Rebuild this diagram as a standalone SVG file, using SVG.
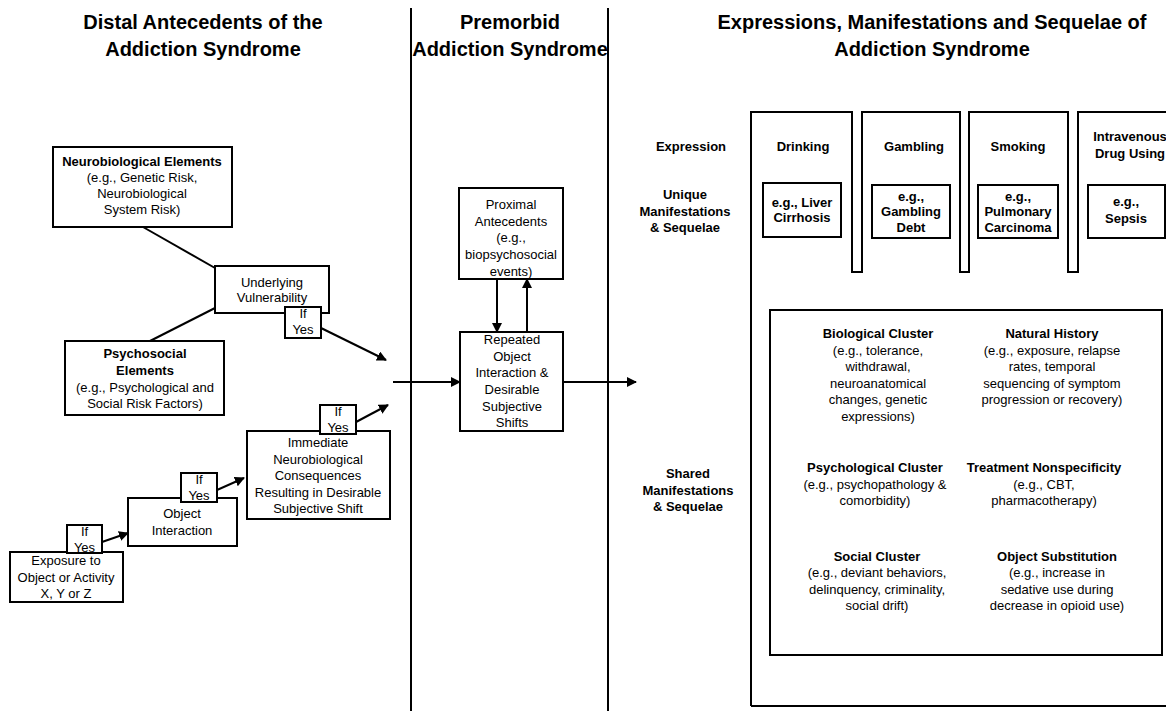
<svg xmlns="http://www.w3.org/2000/svg" width="1166" height="711" viewBox="0 0 1166 711">
<defs>
<style>
text{font-family:"Liberation Sans",Arial,sans-serif;font-size:13px;fill:#000;text-anchor:middle}
.b{font-weight:bold}
.h{font-weight:bold;font-size:20px}
.box{fill:#fff;stroke:#000;stroke-width:2}
.ln{fill:none;stroke:#000;stroke-width:2}
.ar{fill:none;stroke:#000;stroke-width:2;marker-end:url(#ah)}
</style>
<marker id="ah" viewBox="0 0 10 10" refX="9" refY="5" markerWidth="5" markerHeight="5" markerUnits="strokeWidth" orient="auto">
<path d="M0,0 L10,5 L0,10 z" fill="#000"/>
</marker>
</defs>
<rect width="1166" height="711" fill="#fff"/>

<g id="dividers">
<line class="ln" x1="411" y1="8" x2="411" y2="711"/>
<line class="ln" x1="608" y1="8" x2="608" y2="711"/>
</g>

<g id="headings">
<text class="h" x="203" y="29">Distal Antecedents of the</text>
<text class="h" x="203" y="56">Addiction Syndrome</text>
<text class="h" x="510" y="29">Premorbid</text>
<text class="h" x="510" y="56">Addiction Syndrome</text>
<text class="h" x="932" y="29">Expressions, Manifestations and Sequelae of</text>
<text class="h" x="932" y="56">Addiction Syndrome</text>
</g>

<g id="connectors">
<line class="ln" x1="143" y1="227" x2="215" y2="268"/>
<line class="ln" x1="215" y1="308" x2="150" y2="341"/>
<line class="ar" x1="321" y1="328" x2="386" y2="360"/>
<line class="ar" x1="102" y1="542" x2="128" y2="533"/>
<line class="ar" x1="217" y1="490" x2="244" y2="478"/>
<line class="ar" x1="356" y1="422" x2="388" y2="405"/>
<line class="ar" x1="393" y1="382" x2="460" y2="382"/>
<line class="ar" x1="497" y1="279" x2="497" y2="332"/>
<line class="ar" x1="527" y1="332" x2="527" y2="279"/>
<line class="ar" x1="563" y1="382" x2="636" y2="382"/>
</g>

<g id="neurobiological">
<rect class="box" x="53" y="147" width="179" height="80"/>
<text class="b" x="142" y="166">Neurobiological Elements</text>
<text x="142" y="182">(e.g., Genetic Risk,</text>
<text x="142" y="198">Neurobiological</text>
<text x="142" y="214">System Risk)</text>
</g>

<g id="vulnerability">
<rect class="box" x="215" y="266" width="114" height="47"/>
<text x="272" y="287">Underlying</text>
<text x="272" y="302">Vulnerability</text>
</g>
<g id="ifyes1">
<rect class="box" x="285" y="307" width="36" height="31"/>
<text x="303" y="318">If</text>
<text x="303" y="334">Yes</text>
</g>

<g id="psychosocial">
<rect class="box" x="65" y="341" width="159" height="74"/>
<text class="b" x="145" y="358">Psychosocial</text>
<text class="b" x="145" y="375">Elements</text>
<text x="145" y="392">(e.g., Psychological and</text>
<text x="145" y="408">Social Risk Factors)</text>
</g>

<g id="exposure">
<rect class="box" x="10" y="552" width="113" height="50"/>
<text x="66" y="565">Exposure to</text>
<text x="66" y="582">Object or Activity</text>
<text x="66" y="598">X, Y or Z</text>
</g>
<g id="ifyes2">
<rect class="box" x="67" y="525" width="35" height="28"/>
<text x="84.5" y="536">If</text>
<text x="84.5" y="552">Yes</text>
</g>

<g id="objectinteraction">
<rect class="box" x="128" y="498" width="109" height="48"/>
<text x="182" y="518">Object</text>
<text x="182" y="535">Interaction</text>
</g>
<g id="ifyes3">
<rect class="box" x="181" y="473" width="36" height="29"/>
<text x="199" y="484">If</text>
<text x="199" y="500">Yes</text>
</g>

<g id="immediate">
<rect class="box" x="247" y="431" width="143" height="88"/>
<text x="318" y="447">Immediate</text>
<text x="318" y="464">Neurobiological</text>
<text x="318" y="480">Consequences</text>
<text x="318" y="497">Resulting in Desirable</text>
<text x="318" y="513">Subjective Shift</text>
</g>
<g id="ifyes4">
<rect class="box" x="320" y="405" width="36" height="29"/>
<text x="338" y="416">If</text>
<text x="338" y="432">Yes</text>
</g>

<g id="proximal">
<rect class="box" x="459" y="188" width="104" height="91"/>
<text x="511" y="209">Proximal</text>
<text x="511" y="226">Antecedents</text>
<text x="511" y="242">(e.g.,</text>
<text x="511" y="259">biopsychosocial</text>
<text x="511" y="276">events)</text>
</g>

<g id="repeated">
<rect class="box" x="460" y="332" width="103" height="99"/>
<text x="512" y="344">Repeated</text>
<text x="512" y="361">Object</text>
<text x="512" y="377">Interaction &amp;</text>
<text x="512" y="394">Desirable</text>
<text x="512" y="411">Subjective</text>
<text x="512" y="427">Shifts</text>
</g>

<g id="rowlabels">
<text class="b" x="691" y="151">Expression</text>
<text class="b" x="685" y="199">Unique</text>
<text class="b" x="685" y="216">Manifestations</text>
<text class="b" x="685" y="232">&amp; Sequelae</text>
<text class="b" x="688" y="478">Shared</text>
<text class="b" x="688" y="495">Manifestations</text>
<text class="b" x="688" y="511">&amp; Sequelae</text>
</g>

<g id="expressions">
<path class="ln" d="M751,706 V112 H852 V272 H862 V112 H960 V272 H969 V112 H1068 V272 H1078 V112 H1170"/>
<line class="ln" x1="751" y1="706" x2="1170" y2="706"/>
<text class="b" x="803" y="151">Drinking</text>
<text class="b" x="914" y="151">Gambling</text>
<text class="b" x="1018" y="151">Smoking</text>
<text class="b" x="1130" y="141">Intravenous</text>
<text class="b" x="1130" y="158">Drug Using</text>
</g>

<g id="drinking">
<rect class="box" x="763" y="183" width="78" height="54"/>
<text class="b" x="802" y="207">e.g., Liver</text>
<text class="b" x="802" y="222">Cirrhosis</text>
</g>
<g id="gambling">
<rect class="box" x="872" y="185" width="78" height="53"/>
<text class="b" x="911" y="201">e.g.,</text>
<text class="b" x="911" y="216">Gambling</text>
<text class="b" x="911" y="232">Debt</text>
</g>
<g id="smoking">
<rect class="box" x="978" y="185" width="80" height="53"/>
<text class="b" x="1018" y="201">e.g.,</text>
<text class="b" x="1018" y="216">Pulmonary</text>
<text class="b" x="1018" y="232">Carcinoma</text>
</g>
<g id="ivdrug">
<rect class="box" x="1088" y="185" width="77" height="53"/>
<text class="b" x="1126" y="206">e.g.,</text>
<text class="b" x="1126" y="223">Sepsis</text>
</g>

<g id="shared">
<rect class="box" x="770" y="310" width="392" height="345"/>
<text class="b" x="878" y="338">Biological Cluster</text>
<text x="878" y="355">(e.g., tolerance,</text>
<text x="878" y="371">withdrawal,</text>
<text x="878" y="388">neuroanatomical</text>
<text x="878" y="404">changes, genetic</text>
<text x="878" y="421">expressions)</text>
<text class="b" x="1052" y="338">Natural History</text>
<text x="1052" y="355">(e.g., exposure, relapse</text>
<text x="1052" y="371">rates, temporal</text>
<text x="1052" y="388">sequencing of symptom</text>
<text x="1052" y="404">progression or recovery)</text>
<text class="b" x="875" y="472">Psychological Cluster</text>
<text x="875" y="489">(e.g., psychopathology &amp;</text>
<text x="875" y="505">comorbidity)</text>
<text class="b" x="1044" y="472">Treatment Nonspecificity</text>
<text x="1044" y="489">(e.g., CBT,</text>
<text x="1044" y="505">pharmacotherapy)</text>
<text class="b" x="877" y="561">Social Cluster</text>
<text x="877" y="577">(e.g., deviant behaviors,</text>
<text x="877" y="594">delinquency, criminality,</text>
<text x="877" y="610">social drift)</text>
<text class="b" x="1057" y="561">Object Substitution</text>
<text x="1057" y="577">(e.g., increase in</text>
<text x="1057" y="594">sedative use during</text>
<text x="1057" y="610">decrease in opioid use)</text>
</g>
</svg>
